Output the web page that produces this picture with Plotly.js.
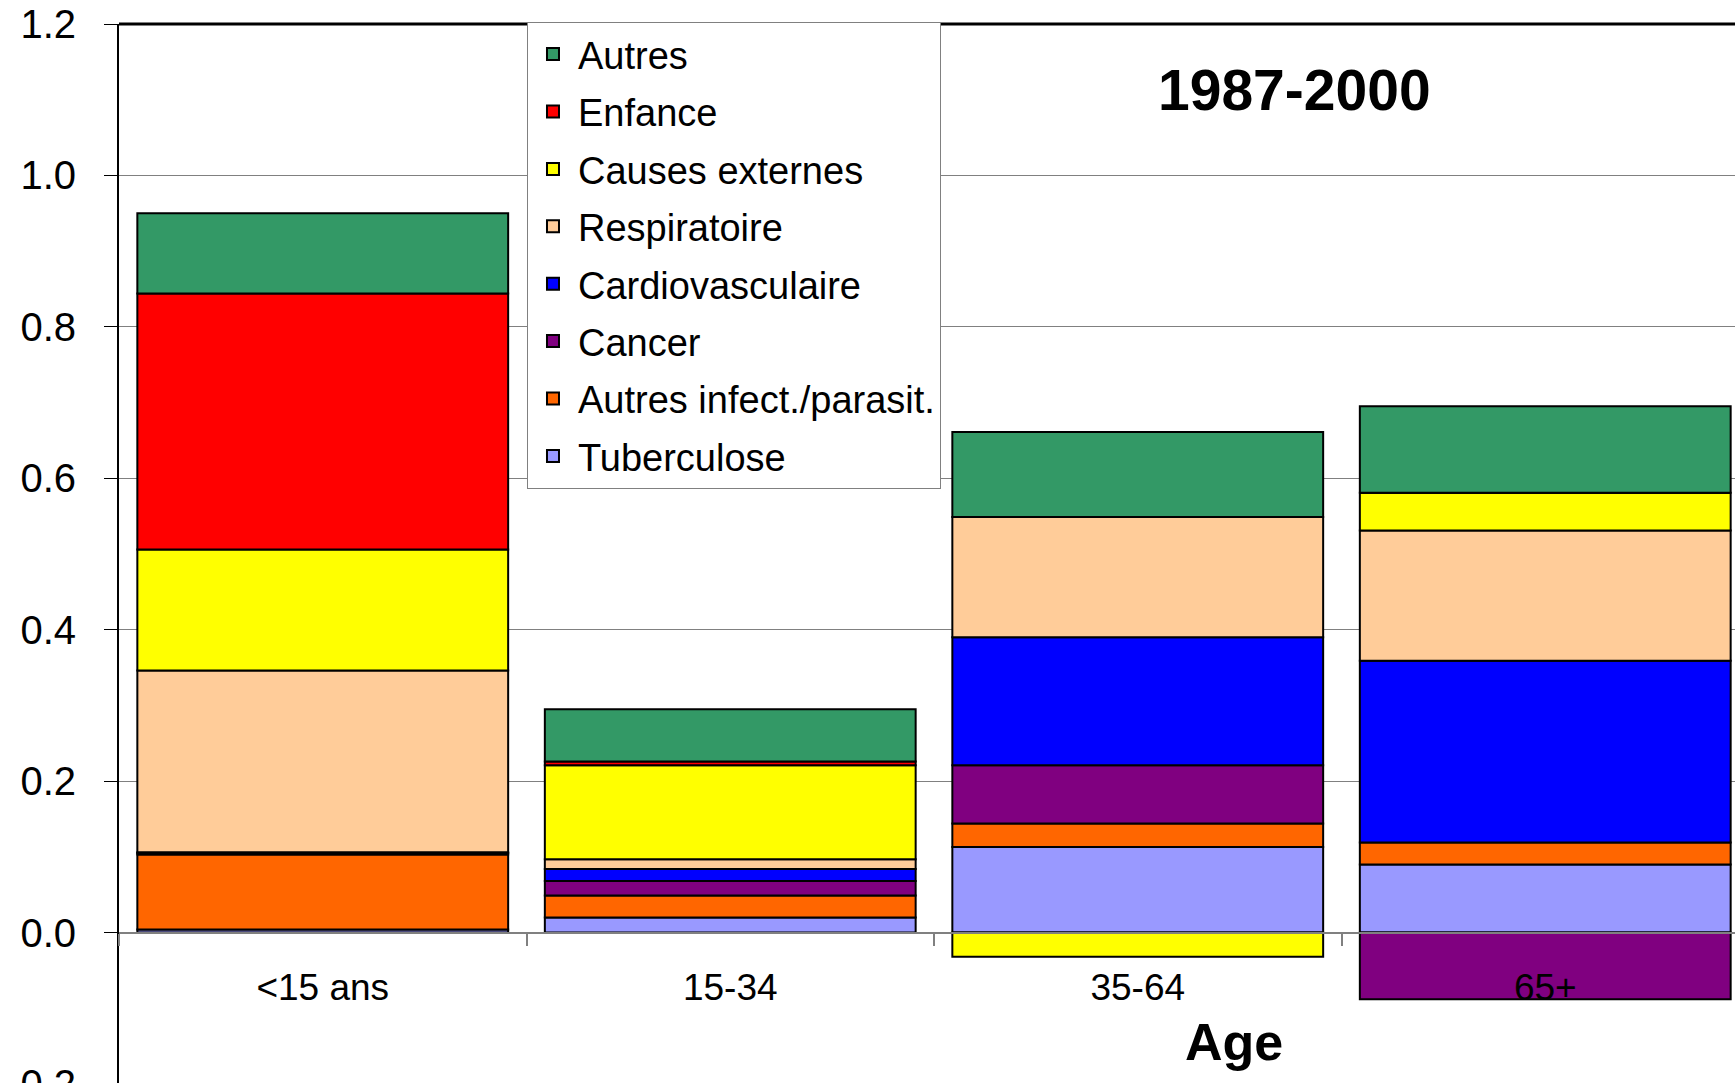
<!DOCTYPE html>
<html>
<head>
<meta charset="utf-8">
<script src="https://cdn.plot.ly/plotly-3.0.1.min.js"></script>
<style>
  html, body { margin: 0; padding: 0; overflow: hidden; background: #fff; }
</style>
</head>
<body>
<div id="myDiv"></div>
<script>
// age groups
let ages = ['<15 ans', '15-34', '35-64', '65+'];

// contributions by cause
let tuberculose  = [0.004, 0.020, 0.113, 0.090];
let autresInfect = [0.099, 0.029, 0.031, 0.029];
let cancer       = [0.002, 0.019, 0.077, -0.088];
let cardio       = [0.001, 0.016, 0.169, 0.240];
let respiratoire = [0.240, 0.013, 0.159, 0.172];
let causesExt    = [0.160, 0.124, -0.032, 0.050];
let enfance      = [0.338, 0.005, 0, 0];
let autres       = [0.106, 0.069, 0.112, 0.114];

let yTicks = [-0.2, 0, 0.2, 0.4, 0.6, 0.8, 1.0, 1.2];

// first trace is stacked at the bottom, but listed last in the legend
function bar(name, values, color, rank) {
    return {
        type: 'bar',
        name: name,
        x: ages,
        y: values,
        legendgroup: name,
        legendrank: rank,
        marker: { color: color, line: { color: '#000000', width: 2 } }
    };
}

let data = [
    bar('Tuberculose', tuberculose, '#9999FF', 8),
    bar('Autres infect./parasit.', autresInfect, '#FF6600', 7),
    bar('Cancer', cancer, '#800080', 6),
    bar('Cardiovasculaire', cardio, '#0000FF', 5),
    bar('Respiratoire', respiratoire, '#FFCC99', 4),
    bar('Causes externes', causesExt, '#FFFF00', 3),
    bar('Enfance', enfance, '#FF0000', 2),
    bar('Autres', autres, '#339966', 1)
];

let font = 'Arial, "Liberation Sans", sans-serif';

let layout = {
    width: 1780,
    height: 1124,
    margin: { l: 119, r: 31, t: 24, b: 40 },
    paper_bgcolor: '#ffffff',
    plot_bgcolor: '#ffffff',
    barmode: 'relative',
    bargap: 0.09,
    font: { family: font, color: '#000000' },
    showlegend: true,
    legend: {
        x: 0.2503, y: 1.002, xanchor: 'left', yanchor: 'top',
        traceorder: 'grouped',
        tracegroupgap: 5,
        itemwidth: 40,
        bgcolor: '#ffffff',
        bordercolor: '#808080',
        borderwidth: 1,
        font: { family: font, size: 38, color: '#000000' }
    },
    xaxis: {
        type: 'category',
        anchor: 'free',
        position: 0.2 / 1.4,
        showline: true,
        linecolor: '#808080',
        linewidth: 2,
        showgrid: false,
        tickson: 'boundaries',
        ticks: 'outside',
        ticklen: 12,
        tickcolor: '#808080',
        tickwidth: 2,
        ticklabelstandoff: 22,
        tickfont: { family: font, size: 37, color: '#000000' }
    },
    yaxis: {
        range: [-0.2, 1.2],
        tickvals: yTicks,
        tickformat: '.1f',
        showgrid: true,
        gridcolor: '#808080',
        gridwidth: 1,
        zeroline: false,
        showline: true,
        linecolor: '#000000',
        linewidth: 2,
        ticks: 'outside',
        ticklen: 13,
        tickcolor: '#000000',
        tickwidth: 1,
        ticklabelstandoff: 20,
        tickfont: { family: font, size: 40, color: '#000000' }
    },
    shapes: [{
        type: 'line', xref: 'paper', yref: 'paper',
        x0: 0, x1: 1, y0: 1, y1: 1,
        line: { color: '#000000', width: 3 }
    }],
    annotations: [
        {
            text: '<b>1987-2000</b>', xref: 'paper', yref: 'paper',
            x: 0.7209, y: 0.9382, xanchor: 'center', yanchor: 'middle',
            showarrow: false, font: { family: font, size: 57, color: '#000000' }
        },
        {
            text: '<b>Age</b>', xref: 'paper', yref: 'paper',
            x: 0.684, y: 0.0396, xanchor: 'center', yanchor: 'middle',
            showarrow: false, font: { family: font, size: 52, color: '#000000' }
        }
    ]
};

Plotly.newPlot('myDiv', data, layout, { displayModeBar: false, staticPlot: true });
</script>
</body>
</html>
